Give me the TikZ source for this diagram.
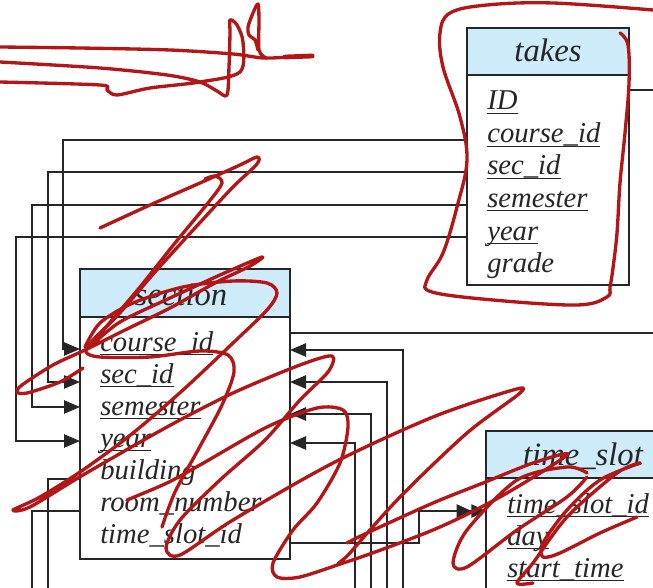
\documentclass[tikz,border=0pt]{standalone}
\usepackage{fontspec}
\setmainfont{Liberation Serif}
\usetikzlibrary{arrows.meta}
\definecolor{hdr}{RGB}{205,235,248}
\definecolor{ink}{RGB}{38,38,38}
\definecolor{pen}{RGB}{180,22,24}
\newcommand{\keyul}[1]{\setbox0\hbox{#1}\rlap{\rule[-2.8pt]{\wd0}{0.75pt}}\box0}
\begin{document}
\begin{tikzpicture}[x=0.75pt,y=-0.75pt,
  tbox/.style={draw=ink, line width=1.5pt},
  hbox/.style={draw=ink, line width=1.5pt, fill=hdr},
  conn/.style={draw=ink, line width=1.1pt},
  arr/.style={conn, -{Triangle[length=12pt,width=10pt]}},
  darr/.style={conn, -{Triangle[length=11pt,width=10pt]Triangle[length=11pt,width=10pt]}},
  hdrtxt/.style={font=\fontsize{24.5}{28}\selectfont\itshape, text=ink, anchor=base, inner sep=0pt},
  row/.style={font=\fontsize{21.5}{24}\selectfont\itshape, text=ink, anchor=base west, inner sep=0pt},
  scrib/.style={draw=pen, line width=2.5pt, line cap=round, line join=round}]
\useasboundingbox (0,0) rectangle (653,588);
\fill[white] (0,0) rectangle (653,588);
\begin{scope}
\clip (0,0) rectangle (653,588);
% ---------- takes ----------
\draw[hbox] (467,28) rectangle (629,75);
\draw[tbox] (467,75) rectangle (629,285);
\node[hdrtxt] (takesH) at (548,62) {takes};
\node[row] (tkID) at (487,110) {\keyul{ID}};
\node[row] (tkCid) at (487,143) {\keyul{course\_id}};
\node[row] (tkSid) at (487,175) {\keyul{sec\_id}};
\node[row] (tkSem) at (487,207) {\keyul{semester}};
\node[row] (tkYr) at (487,240) {\keyul{year}};
\node[row] (tkGr) at (487,272) {grade};
% ---------- section ----------
\draw[hbox] (80,269) rectangle (290,317);
\draw[tbox] (80,317) rectangle (290,559);
\node[hdrtxt] (secH) at (181,305) {section};
\node[row] (sCid) at (100,351) {\keyul{course\_id}};
\node[row] (sSid) at (100,383) {\keyul{sec\_id}};
\node[row] (sSem) at (100,415) {\keyul{semester}};
\node[row] (sYr) at (100,447) {\keyul{year}};
\node[row] (sBld) at (100,479) {building};
\node[row] (sRm) at (100,511) {room\_number};
\node[row] (sTs) at (100,543) {time\_slot\_id};
% ---------- time_slot ----------
\draw[hbox] (486,431) rectangle (690,478);
\draw[tbox] (486,478) rectangle (690,640);
\node[hdrtxt] (tsH) at (583,465) {time\_slot};
\node[row] (tsId) at (507,513) {\keyul{time\_slot\_id}};
\node[row] (tsDay) at (507,545) {\keyul{day}};
\node[row] (tsSt) at (507,577) {\keyul{start\_time}};
% ---------- connector end points ----------
\coordinate (tkL1) at (467,140); \coordinate (tkL2) at (467,172);
\coordinate (tkL3) at (467,205); \coordinate (tkL4) at (467,237);
\coordinate (tkR) at (629,90);   \coordinate (tkOut) at (653,90);
\coordinate (sL1) at (80,349);   \coordinate (sL2) at (80,382);
\coordinate (sL3) at (80,407);   \coordinate (sL4) at (80,441);
\coordinate (sLb) at (80,479);   \coordinate (sLr) at (80,511);
\coordinate (sR0) at (290,333);  \coordinate (sOut) at (653,333);
\coordinate (sR1) at (290,350);  \coordinate (sR2) at (290,382);
\coordinate (sR3) at (290,414);  \coordinate (sR4) at (290,443);
\coordinate (sRt) at (290,543);  \coordinate (tsL) at (486,511);
\coordinate (b1) at (403,590); \coordinate (b2) at (387,590);
\coordinate (b3) at (371,590); \coordinate (b4) at (355,590);
\coordinate (b5) at (48,590);  \coordinate (b6) at (32,590);
% ---------- connectors ----------
\draw[arr] (tkL1) -- (63,140) -- (63,349) -- (sL1);
\draw[arr] (tkL2) -- (48,172) -- (48,382) -- (sL2);
\draw[arr] (tkL3) -- (32,205) -- (32,407) -- (sL3);
\draw[arr] (tkL4) -- (16,237) -- (16,441) -- (sL4);
\draw[conn] (tkR) -- (tkOut);
\draw[conn] (sR0) -- (sOut);
\draw[arr] (b1) -- (403,350) -- (sR1);
\draw[arr] (b2) -- (387,382) -- (sR2);
\draw[arr] (b3) -- (371,414) -- (sR3);
\draw[arr] (b4) -- (355,443) -- (sR4);
\draw[darr] (sRt) -- (419,543) -- (419,511) -- (tsL);
\draw[conn] (sLb) -- (48,479) -- (b5);
\draw[conn] (sLr) -- (32,511) -- (b6);
% ---------- red pen scribbles ----------
\draw[scrib] plot[smooth, tension=0.5] coordinates {(0,47) (80,48) (170,50) (233,54) (263,58) (290,57) (313,56)};
\draw[scrib, line width=3.6pt] (285,57) -- (312,56);
\draw[scrib] plot[smooth, tension=0.5] coordinates {(0,62) (100,68) (167,75) (200,82) (217,91) (227,95) (229,67) (230,33) (230,20) (237,25) (243,42) (240,72) (200,82) (150,88) (117,95) (107,90) (100,85) (0,82)};
\draw[scrib] plot[smooth, tension=0.5] coordinates {(266,58) (259,50) (259,20) (258,4) (253,13) (248,27) (249,35) (255,40) (258,50)};
\draw[scrib] plot[smooth, tension=0.6] coordinates {(620,33) (628,45) (629,83) (625,133) (620,183) (617,233) (613,268) (610,287) (607,297) (577,305) (493,300) (432,292) (427,280) (443,253) (457,207) (467,160) (460,117) (443,67) (440,33) (450,13) (487,5) (553,3) (653,10)};
\draw[scrib] plot[smooth, tension=0.5] coordinates {(100,228) (150,205) (200,183) (240,165) (257,157) (257,164) (232,188) (195,228) (155,272) (118,315) (93,340) (86,352) (100,357) (150,357) (200,351) (228,355) (234,372) (222,405) (198,450) (175,492) (162,527)};
\draw[scrib] plot[smooth, tension=0.5] coordinates {(205,179) (215,176) (222,183) (208,203) (175,243) (140,287) (106,327) (89,347) (120,322) (170,298) (220,275) (262,257) (250,266) (215,283) (170,308) (125,330) (85,350) (53,365) (22,385) (17,392) (27,393) (60,382) (83,368)};
\draw[scrib] plot[smooth, tension=0.5] coordinates {(85,347) (100,323) (133,303) (183,287) (233,281) (267,283) (277,293) (267,310) (233,343) (183,390) (133,433) (83,470) (40,497) (13,510) (30,507) (83,475) (167,427) (233,393) (300,365) (332,356) (328,372) (300,400) (265,440) (220,480) (180,520) (166,548) (180,555) (233,520) (333,463) (433,417) (513,390) (520,393) (467,433) (400,497) (350,553) (343,563) (433,530) (500,497) (567,455) (533,463) (483,483) (433,503) (367,533) (347,543)};
\draw[scrib] plot[smooth, tension=0.5] coordinates {(127,500) (167,483) (200,465) (267,427) (317,408) (343,410) (348,427) (340,463) (317,503) (293,530) (273,563) (277,577) (300,577) (343,563)};
\draw[scrib] plot[smooth, tension=0.5] coordinates {(587,473) (567,467) (517,480) (467,530) (453,563) (467,567) (517,530) (567,497) (587,477)};
\draw[scrib] plot[smooth, tension=0.5] coordinates {(533,583) (517,583) (533,563) (567,517) (617,473) (640,463) (600,480) (567,510) (543,543) (543,557) (560,553) (600,533) (637,517)};
\end{scope}
\end{tikzpicture}
\end{document}
